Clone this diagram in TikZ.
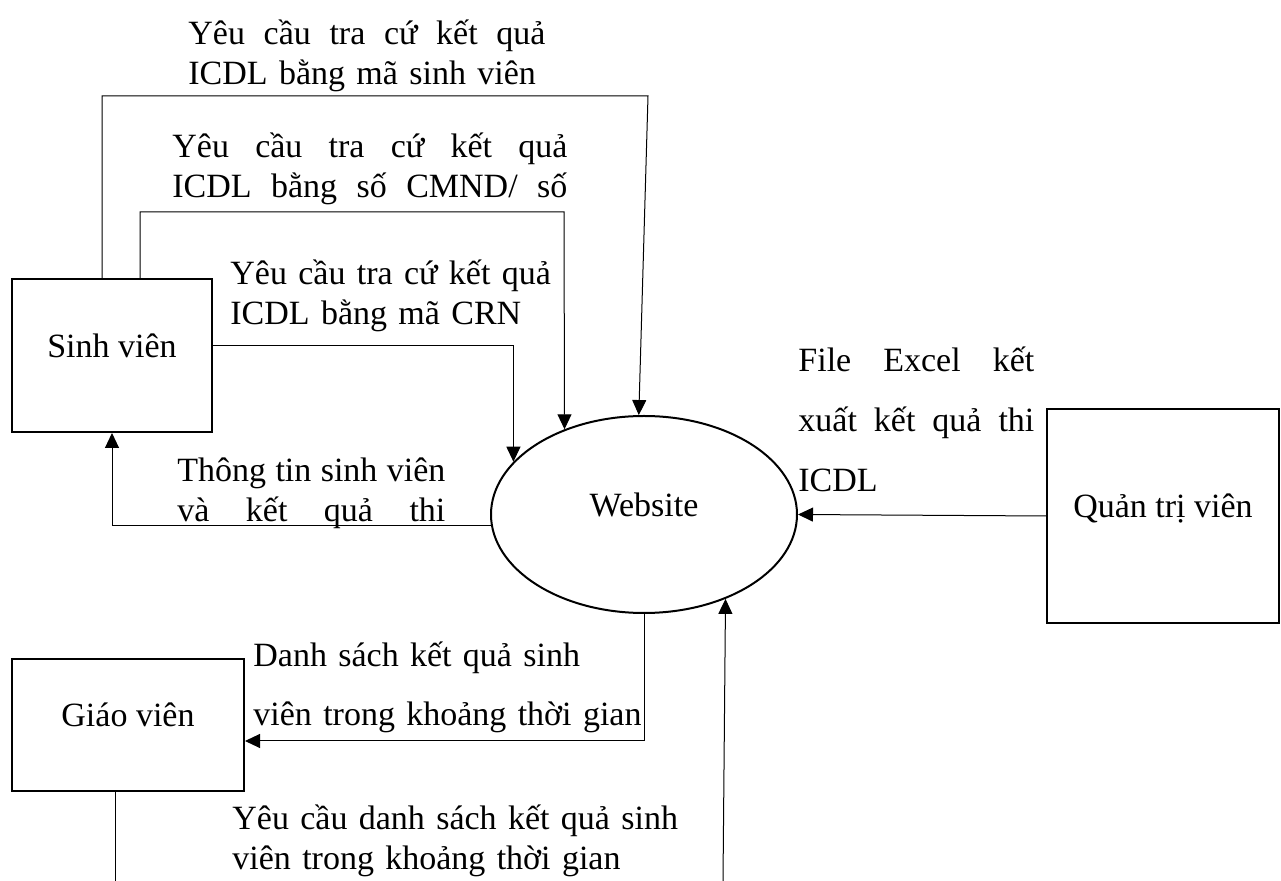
\documentclass[tikz,border=0pt]{standalone}
\usepackage{fontspec}
\setmainfont{Liberation Serif}
\usetikzlibrary{arrows.meta,shapes.geometric}
%% a justified label line of given width
\newcommand{\jline}[2]{\makebox[#1][s]{\spaceskip=\fontdimen2\font plus 1fil\relax #2}}
\tikzset{
  dfdEnt/.style={draw, line width=1pt, inner sep=0pt,
    text height=12pt, text depth=10pt, font=\fontsize{17}{20}\selectfont},
  dfdProc/.style={draw, ellipse, line width=1pt, inner sep=0pt,
    minimum width=153pt, minimum height=98.5pt,
    text height=12pt, text depth=10pt, font=\fontsize{17}{20}\selectfont},
  %% Flow lines
  dfdline/.style={line width=0.5pt},
  dfdmsg/.style={-{Triangle[length=7.5pt,width=7pt]}, line width=0.5pt},
  %% Flow labels
  dfdlbl/.style={anchor=base west, inner sep=0pt, align=left,
    font=\fontsize{17}{20}\selectfont},
}
\begin{document}
\begin{tikzpicture}[x=0.5pt, y=-0.5pt]
\useasboundingbox (0,0) rectangle (1281,881);
%% Entities and process
\node[dfdEnt, minimum width=100pt, minimum height=76.5pt] (sv) at (112,355.5) {Sinh viên};
\node[dfdEnt, minimum width=116pt, minimum height=66pt]   (gv) at (128,725)   {Giáo viên};
\node[dfdEnt, minimum width=116pt, minimum height=107pt]  (qt) at (1163,516)  {Quản trị viên};
\node[dfdProc] (web) at (644,514.5) {Website};

%% Labels
\node[dfdlbl, text width=200pt] (lMsv) at (188,45)
  {\jline{178.5pt}{Yêu cầu tra cứ kết quả}\\ICDL bằng mã sinh viên};
\node[dfdlbl, text width=220pt] (lCmnd) at (172,158)
  {\jline{197.5pt}{Yêu cầu tra cứ kết quả}\\\jline{197.5pt}{ICDL bằng số CMND/ số}};
\node[dfdlbl, text width=200pt] (lCrn) at (230,285)
  {Yêu cầu tra cứ kết quả\\ICDL bằng mã CRN};
\node[dfdlbl, text width=160pt] (lTt) at (177,482)
  {\jline{134pt}{Thông tin sinh viên}\\\jline{134pt}{và kết quả thi}};
\node[dfdlbl, text width=140pt, font=\fontsize{17}{30}\selectfont] (lFile) at (798,372)
  {\jline{118pt}{File Excel kết}\\\jline{118pt}{xuất kết quả thi}\\ICDL};
\node[dfdlbl, text width=220pt, font=\fontsize{17}{29.5}\selectfont] (lDs) at (253,667)
  {Danh sách kết quả sinh\\viên trong khoảng thời gian};
\node[dfdlbl, text width=240pt] (lYc) at (232,830)
  {Yêu cầu danh sách kết quả sinh\\viên trong khoảng thời gian};

%% Sinh viên <-> Website
\draw[dfdmsg] ([xshift=-5pt]sv.north) |- (648,96) -- (web.93.5);
\draw[dfdmsg] ([xshift=14pt]sv.north) |- (564,212) -- (web.133.8);
\draw[dfdmsg] ([yshift=4.75pt]sv.east) -| (web.158.5);
\draw[dfdmsg] (web.184.7) -| (sv.south);

%% Quản trị viên -> Website
\draw[dfdmsg] (qt.west) -- (web.east);

%% Website <-> Giáo viên
\draw[dfdmsg] (web.south) |- ([yshift=-8pt]gv.east);
\coordinate (gvEnd) at (115,881);
\coordinate (webIn) at (723,881);
\draw[dfdline] ([xshift=-6.5pt]gv.south) -- (gvEnd);
\draw[dfdmsg] (webIn) -- (web.314.1);

\end{tikzpicture}
\end{document}
